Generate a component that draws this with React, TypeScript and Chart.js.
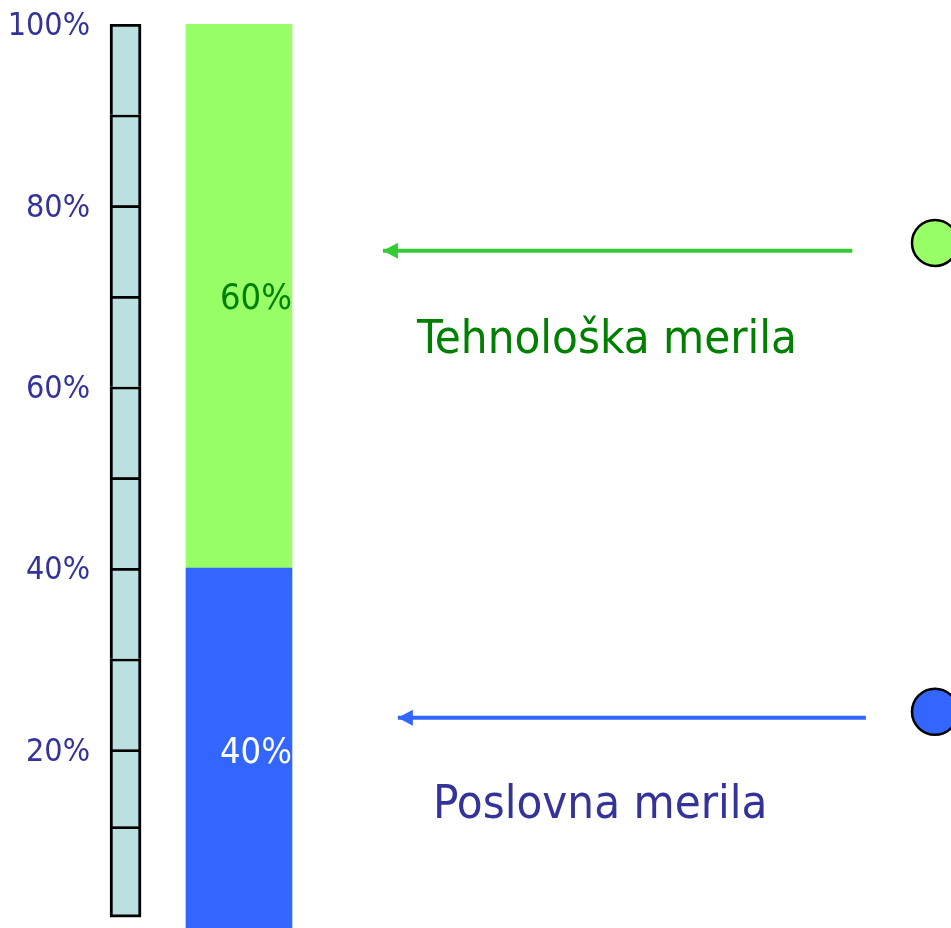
import React, { useEffect, useRef } from 'react';
import { Chart, registerables } from 'chart.js';

Chart.register(...registerables);

// ---- data (value space: x 0..100 hidden, y 0..100 %) ----
const Y_TICKS = [20, 40, 60, 80, 100];
const RULER_EDGES = [1.5, 11.5, 20, 30, 40, 50, 60, 70, 80, 90, 100];
const SEGMENT_NAMES = ['Poslovna merila', 'Tehnološka merila'];
const SEGMENT_VALUES = [40, 60];
const ARROW_LEVELS = [23.5, 75];
const ARROW_FROM = [90.0, 88.4];
const ARROW_TO = [35.0, 33.25];
const MARKER_LEVELS = [24.15, 75.85];
const CAPTION_X = [39.13, 37.25];
const CAPTION_Y = [12.46, 63.7];
const RULER_X = 3.0;
const BAR_X = 16.33;
const MARKER_X = 98.12;
const Y_VISIBLE_MIN = 0.3;

// ---- styles ----
const FONT = '"DejaVu Sans Condensed", "Liberation Sans", sans-serif';
const SEG_FILL = ['#3366ff', '#99ff66'];
const SEG_TEXT = ['#ffffff', '#008000'];
const ARROW_COL = ['#3366ff', '#33cc33'];
const CAPTION_COL = ['#333399', '#008000'];

const overlay = {
  id: 'overlay',
  afterDatasetsDraw(chart: any) {
    const ctx = chart.ctx;
    const xs = chart.scales.x;
    const ys = chart.scales.y;
    ctx.save();
    // arrowheads
    [3, 4].forEach((di, i) => {
      const meta = chart.getDatasetMeta(di);
      const a = meta.data[0];
      const b = meta.data[1];
      const ang = Math.atan2(b.y - a.y, b.x - a.x);
      const len = 15;
      const hw = 8;
      ctx.beginPath();
      ctx.moveTo(b.x, b.y);
      ctx.lineTo(b.x - len * Math.cos(ang) - hw * Math.sin(ang), b.y - len * Math.sin(ang) + hw * Math.cos(ang));
      ctx.lineTo(b.x - len * Math.cos(ang) + hw * Math.sin(ang), b.y - len * Math.sin(ang) - hw * Math.cos(ang));
      ctx.closePath();
      ctx.fillStyle = ARROW_COL[i];
      ctx.fill();
    });
    // value labels inside the stacked bar
    SEGMENT_VALUES.forEach((v, i) => {
      const el = chart.getDatasetMeta(1 + i).data[0];
      const { x, y, base } = el.getProps(['x', 'y', 'base'], true);
      ctx.font = `36px ${FONT}`;
      ctx.fillStyle = SEG_TEXT[i];
      ctx.textAlign = 'center';
      ctx.textBaseline = 'middle';
      ctx.fillText(`${v}%`, x + 17, (y + base) / 2 + 4);
    });
    // captions
    SEGMENT_NAMES.forEach((name, i) => {
      ctx.font = `47px ${FONT}`;
      ctx.fillStyle = CAPTION_COL[i];
      ctx.textAlign = 'left';
      ctx.textBaseline = 'alphabetic';
      ctx.fillText(name, xs.getPixelForValue(CAPTION_X[i]), ys.getPixelForValue(CAPTION_Y[i]));
    });
    ctx.restore();
  },
};

export default function App() {
  const ref = useRef<HTMLCanvasElement>(null);
  useEffect(() => {
    if (!ref.current) return;
    const cells = RULER_EDGES.slice(0, -1).map((lo, i) => ({ x: RULER_X, y: [lo, RULER_EDGES[i + 1]] }));
    const chart = new Chart(ref.current, {
      type: 'bar',
      data: {
        datasets: [
          {
            type: 'bar',
            label: 'ruler',
            data: cells as any,
            backgroundColor: '#bae0e2',
            borderColor: '#000000',
            borderSkipped: false,
            borderWidth: (c: any) => ({ left: 3, right: 3, top: 3, bottom: c.dataIndex === 0 ? 3 : 0 }),
            barThickness: 31,
            grouped: false,
          } as any,
          {
            type: 'bar',
            label: SEGMENT_NAMES[0],
            data: [{ x: BAR_X, y: SEGMENT_VALUES[0] }] as any,
            backgroundColor: SEG_FILL[0],
            borderWidth: 0,
            barThickness: 106,
            grouped: false,
          } as any,
          {
            type: 'bar',
            label: SEGMENT_NAMES[1],
            data: [{ x: BAR_X, y: [SEGMENT_VALUES[0], SEGMENT_VALUES[0] + SEGMENT_VALUES[1]] }] as any,
            backgroundColor: SEG_FILL[1],
            borderWidth: 0,
            barThickness: 106,
            grouped: false,
          } as any,
          ...[0, 1].map((i) => ({
            type: 'line',
            label: 'arrow' + i,
            data: [
              { x: ARROW_FROM[i], y: ARROW_LEVELS[i] },
              { x: ARROW_TO[i], y: ARROW_LEVELS[i] },
            ],
            borderColor: ARROW_COL[i],
            borderWidth: 4,
            pointRadius: 0,
            fill: false,
          } as any)),
          {
            type: 'scatter',
            label: 'markers',
            data: MARKER_LEVELS.map((y) => ({ x: MARKER_X, y })),
            pointRadius: 23,
            pointBackgroundColor: SEG_FILL,
            pointBorderColor: '#000000',
            pointBorderWidth: 2.5,
            clip: false,
          } as any,
        ],
      },
      options: {
        animation: false,
        responsive: false,
        events: [],
        layout: { autoPadding: false, padding: { top: 24, bottom: 0, left: 0, right: 0 } },
        plugins: { legend: { display: false }, tooltip: { enabled: false } },
        scales: {
          x: { type: 'linear', display: false, min: 0, max: 100, offset: false },
          y: {
            type: 'linear',
            min: Y_VISIBLE_MIN,
            max: 100,
            grid: { display: false, drawTicks: false },
            border: { display: false },
            afterBuildTicks: (axis: any) => {
              axis.ticks = Y_TICKS.map((v) => ({ value: v }));
            },
            afterFit: (axis: any) => {
              axis.width = 100;
              axis.paddingTop = 0;
              axis.paddingBottom = 0;
            },
            ticks: {
              autoSkip: false,
              padding: 10,
              labelOffset: 3,
              color: '#333399',
              font: { family: FONT, size: 32 },
              callback: (v: any) => `${v}%`,
            },
          },
        },
      } as any,
      plugins: [overlay],
    });
    return () => chart.destroy();
  }, []);
  return (
    <div style={{ position: 'absolute', left: 0, top: 0, width: 951, height: 928, background: '#fff' }}>
      <canvas ref={ref} width={951} height={928} style={{ display: 'block' }} />
    </div>
  );
}
